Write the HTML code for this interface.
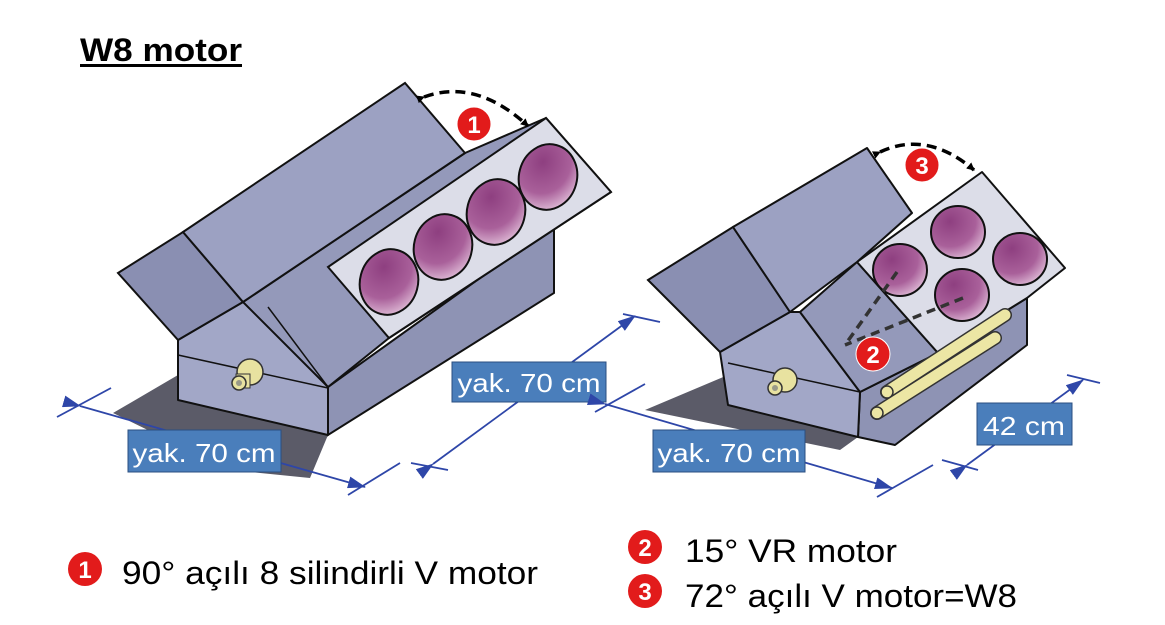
<!DOCTYPE html>
<html><head><meta charset="utf-8"><style>
html,body{margin:0;padding:0;background:#fff;}
svg{display:block;font-family:"Liberation Sans",Arial,sans-serif;}
</style></head><body>
<svg width="1165" height="625" viewBox="0 0 1165 625" xmlns="http://www.w3.org/2000/svg">
<defs>
<radialGradient id="cyl" cx="0.35" cy="0.3" r="0.8">
<stop offset="0" stop-color="#8e3f80"/><stop offset="0.6" stop-color="#a9609a"/><stop offset="1" stop-color="#e6c6de"/>
</radialGradient>
<marker id="ah" markerWidth="8" markerHeight="8" refX="7" refY="4" orient="auto" markerUnits="userSpaceOnUse">
<path d="M0,0 L8,4 L0,8 Z" fill="#000"/></marker>
<marker id="bh" markerWidth="18" markerHeight="12" refX="17" refY="6" orient="auto" markerUnits="userSpaceOnUse">
<path d="M0,0 L18,6 L0,12 Z" fill="#2e46a8"/></marker>
</defs>

<text x="80" y="61" font-size="32" font-weight="bold" fill="#000" textLength="162" lengthAdjust="spacingAndGlyphs">W8 motor</text>
<rect x="80" y="64" width="162" height="3" fill="#000"/>

<!-- LEFT ENGINE -->
<polygon points="113,413 178,375 178,400 328,435 310,478 230,470" fill="#5b5b68"/>
<polygon points="328,387 328,435 554,293 554,225" fill="#8e93b4" stroke="#111" stroke-width="2"/>
<polygon points="178,340 243,302 268,307 328,387 328,435 178,400" fill="#a2a7c7" stroke="#111" stroke-width="2" stroke-linejoin="round"/>
<line x1="178" y1="355" x2="328" y2="388" stroke="#111" stroke-width="1.5"/>
<polygon points="243,302 465,153 546,118 611,192 389,338 328,387" fill="#9499ba" stroke="#111" stroke-width="2" stroke-linejoin="round"/>
<polygon points="328,267 546,118 611,192 389,338" fill="#dcdde8" stroke="#111" stroke-width="2"/>
<line x1="268" y1="307" x2="328" y2="387" stroke="#111" stroke-width="1.5"/>
<polygon points="118,273 183,232 243,302 178,340" fill="#8a8fb2" stroke="#111" stroke-width="2"/>
<polygon points="183,232 405,83 465,153 243,302" fill="#9ca1c2" stroke="#111" stroke-width="2"/>
<g stroke="#111" stroke-width="2" fill="url(#cyl)">
<ellipse cx="389" cy="282" rx="29" ry="33" transform="rotate(15 389 282)"/>
<ellipse cx="443" cy="247" rx="29" ry="33" transform="rotate(15 443 247)"/>
<ellipse cx="496" cy="212" rx="29" ry="33" transform="rotate(15 496 212)"/>
<ellipse cx="548" cy="177" rx="29" ry="33" transform="rotate(15 548 177)"/>
</g>
<circle cx="250" cy="372" r="13" fill="#e8e2a0" stroke="#333" stroke-width="1.5"/>
<rect x="236" y="374" width="14" height="14" fill="#e8e2a0" stroke="#333" stroke-width="1"/>
<circle cx="239" cy="383" r="7" fill="#e8e2a0" stroke="#333" stroke-width="1.5"/>
<circle cx="239" cy="383" r="3" fill="#998"/>
<path d="M424,97 Q476,78 528,126" fill="none" stroke="#000" stroke-width="3.5" stroke-dasharray="10,6" marker-start="url(#ah)" marker-end="url(#ah)"/>
<circle cx="474" cy="124" r="17" fill="#e21b1b" stroke="#fff" stroke-width="1"/>
<text x="474" y="133" font-size="24" font-weight="bold" fill="#fff" text-anchor="middle">1</text>

<!-- left dimensions -->
<g stroke="#2e46a8" stroke-width="1.8" fill="none">
<line x1="57" y1="417" x2="111" y2="388"/>
<line x1="80" y1="406" x2="365" y2="487" marker-start="url(#bh)" marker-end="url(#bh)"/>
<line x1="348" y1="495" x2="400" y2="463"/>
<line x1="411" y1="463" x2="448" y2="470"/>
<line x1="433" y1="464" x2="635" y2="316" marker-start="url(#bh)" marker-end="url(#bh)"/>
<line x1="623" y1="314" x2="660" y2="322"/>
</g>
<rect x="128" y="430" width="153" height="42" fill="#4a7ebb" stroke="#2b4f80"/>
<text x="204" y="462" font-size="26" fill="#fff" text-anchor="middle" textLength="143" lengthAdjust="spacingAndGlyphs">yak. 70 cm</text>
<rect x="452" y="362" width="154" height="40" fill="#4a7ebb" stroke="#2b4f80"/>
<text x="529" y="392" font-size="26" fill="#fff" text-anchor="middle" textLength="143" lengthAdjust="spacingAndGlyphs">yak. 70 cm</text>

<!-- RIGHT ENGINE -->
<polygon points="645,410 728,375 728,405 858,437 840,450" fill="#5b5b68"/>
<polygon points="860,392 858,437 895,445 1027,345 1027,298 938,353" fill="#8e93b4" stroke="#111" stroke-width="2" stroke-linejoin="round"/>
<polygon points="720,352 790,312 800,312 860,392 858,437 728,405" fill="#a2a7c7" stroke="#111" stroke-width="2" stroke-linejoin="round"/>
<line x1="728" y1="363" x2="860" y2="392" stroke="#111" stroke-width="1.5"/>
<polygon points="800,312 857,262 938,353 860,392" fill="#9499ba" stroke="#111" stroke-width="2"/>
<polygon points="857,262 982,172 1065,268 1027,298 938,353" fill="#dcdde8" stroke="#111" stroke-width="2" stroke-linejoin="round"/>
<polygon points="648,280 733,227 790,312 720,352" fill="#8a8fb2" stroke="#111" stroke-width="2"/>
<polygon points="733,227 867,148 912,213 857,262 790,312" fill="#9ca1c2" stroke="#111" stroke-width="2" stroke-linejoin="round"/>
<g stroke="#111" stroke-width="2" fill="url(#cyl)">
<ellipse cx="900" cy="270" rx="27" ry="26"/>
<ellipse cx="958" cy="232" rx="27" ry="26"/>
<ellipse cx="1020" cy="259" rx="27" ry="26"/>
<ellipse cx="962" cy="295" rx="27" ry="26"/>
</g>
<g stroke="#333" stroke-width="3.5" stroke-dasharray="9,6" fill="none">
<line x1="897" y1="272" x2="845" y2="345"/>
<line x1="963" y1="298" x2="845" y2="345"/>
</g>
<g stroke-linecap="round">
<line x1="887" y1="392" x2="1005" y2="315" stroke="#333" stroke-width="14"/>
<line x1="887" y1="392" x2="1005" y2="315" stroke="#ece6a4" stroke-width="11"/>
<line x1="877" y1="413" x2="995" y2="338" stroke="#333" stroke-width="14"/>
<line x1="877" y1="413" x2="995" y2="338" stroke="#ece6a4" stroke-width="11"/>
</g>
<circle cx="887" cy="392" r="6" fill="#ece6a4" stroke="#333" stroke-width="1.5"/>
<circle cx="877" cy="413" r="6" fill="#ece6a4" stroke="#333" stroke-width="1.5"/>
<circle cx="785" cy="380" r="12" fill="#e8e2a0" stroke="#333" stroke-width="1.5"/>
<circle cx="775" cy="388" r="7" fill="#e8e2a0" stroke="#333" stroke-width="1.5"/>
<circle cx="775" cy="388" r="3" fill="#998"/>
<circle cx="873" cy="354" r="17" fill="#e21b1b" stroke="#fff" stroke-width="1"/>
<text x="873" y="363" font-size="24" font-weight="bold" fill="#fff" text-anchor="middle">2</text>
<path d="M880,152 Q927,130 974,170" fill="none" stroke="#000" stroke-width="3.5" stroke-dasharray="10,6" marker-start="url(#ah)" marker-end="url(#ah)"/>
<circle cx="922" cy="165" r="17" fill="#e21b1b" stroke="#fff" stroke-width="1"/>
<text x="922" y="174" font-size="24" font-weight="bold" fill="#fff" text-anchor="middle">3</text>

<g stroke="#2e46a8" stroke-width="1.8" fill="none">
<line x1="595" y1="412" x2="645" y2="384"/>
<line x1="605" y1="404" x2="892" y2="488" marker-start="url(#bh)" marker-end="url(#bh)"/>
<line x1="877" y1="497" x2="933" y2="465"/>
<line x1="942" y1="460" x2="978" y2="470"/>
<line x1="967" y1="465" x2="1083" y2="380" marker-start="url(#bh)" marker-end="url(#bh)"/>
<line x1="1067" y1="375" x2="1100" y2="383"/>
</g>
<rect x="653" y="430" width="152" height="42" fill="#4a7ebb" stroke="#2b4f80"/>
<text x="729" y="462" font-size="26" fill="#fff" text-anchor="middle" textLength="143" lengthAdjust="spacingAndGlyphs">yak. 70 cm</text>
<rect x="977" y="403" width="95" height="42" fill="#4a7ebb" stroke="#2b4f80"/>
<text x="1024" y="435" font-size="26" fill="#fff" text-anchor="middle" textLength="82" lengthAdjust="spacingAndGlyphs">42 cm</text>

<!-- LEGEND -->
<circle cx="85" cy="569" r="17" fill="#e21b1b"/>
<text x="85" y="578" font-size="24" font-weight="bold" fill="#fff" text-anchor="middle">1</text>
<text x="122" y="584" font-size="32" fill="#000" textLength="416" lengthAdjust="spacingAndGlyphs">90° açılı 8 silindirli V motor</text>
<circle cx="645" cy="547" r="17" fill="#e21b1b"/>
<text x="645" y="556" font-size="24" font-weight="bold" fill="#fff" text-anchor="middle">2</text>
<text x="685" y="562" font-size="32" fill="#000" textLength="212" lengthAdjust="spacingAndGlyphs">15° VR motor</text>
<circle cx="645" cy="591" r="17" fill="#e21b1b"/>
<text x="645" y="600" font-size="24" font-weight="bold" fill="#fff" text-anchor="middle">3</text>
<text x="685" y="607" font-size="32" fill="#000" textLength="332" lengthAdjust="spacingAndGlyphs">72° açılı V motor=W8</text>
</svg>
</body></html>
